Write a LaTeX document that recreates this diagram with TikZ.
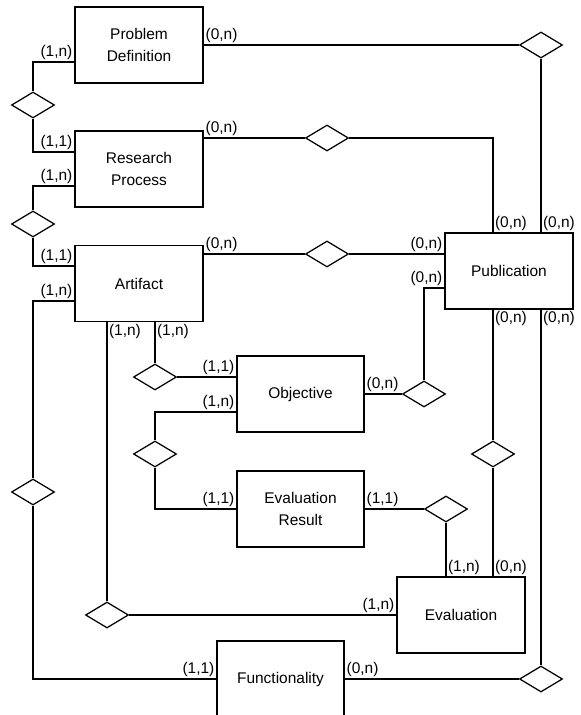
\documentclass[tikz,border=0pt]{standalone}
\usepackage{fontspec}
\setmainfont{Liberation Sans}
\usetikzlibrary{shapes.geometric,calc}
\tikzset{
  entity/.style={draw, rectangle, minimum width=3.2cm, minimum height=1.9cm,
    align=center, font=\fontsize{11}{15.5}\selectfont},
  rel/.style={draw, diamond, inner sep=0pt, minimum width=1.075cm, minimum height=0.65cm},
  card/.style={inner sep=1pt, font=\fontsize{11}{13}\selectfont},
}
\begin{document}
\begin{tikzpicture}[x=0.025cm, y=-0.025cm, line width=0.9pt]
    \useasboundingbox (0,0) rectangle (580,715);

    % 1. Entities
    \node[entity] (pd) at (139,45) {Problem\\Definition};
    \node[entity] (rp) at (139,169) {Research\\Process};
    \node[entity] (art) at (139,283.5) {Artifact};
    \node[entity] (pub) at (509,271) {Publication};
    \node[entity, minimum width=3.175cm] (obj) at (300.5,394) {Objective};
    \node[entity, minimum width=3.175cm] (er) at (300.5,509) {Evaluation\\Result};
    \node[entity] (eval) at (461,615) {Evaluation};
    \node[entity, minimum width=3.175cm] (func) at (280.5,679) {Functionality};

    % 2. Relationships
    \node[rel] (r1) at (541,45) {};
    \node[rel] (r2) at (33,105) {};
    \node[rel] (r3) at (327,138) {};
    \node[rel] (r4) at (33,224) {};
    \node[rel] (r5) at (327,254) {};
    \node[rel] (r6) at (33,492) {};
    \node[rel] (r7) at (107,615) {};
    \node[rel] (r8) at (155,377) {};
    \node[rel] (r9) at (424,394) {};
    \node[rel] (r10) at (155,454) {};
    \node[rel] (r11) at (446,509) {};
    \node[rel] (r12) at (493,454) {};
    \node[rel] (r13) at (541,679) {};

    % 3. Links with cardinalities
    \draw (pd.east) node[card, above right] {(0,n)} -- (r1);
    \draw (r1) -- (r1 |- pub.north) node[card, above right] {(0,n)};
    \draw ($(pd.west)+(0,17)$) node[card, above left] {(1,n)} -| (r2);
    \draw (r2) |- ($(rp.west)+(0,-17)$) node[card, above left] {(1,1)};
    \draw ($(rp.east)+(0,-31)$) node[card, above right] {(0,n)} -- (r3);
    \draw (r3) -| ($(pub.north)+(-16,0)$) node[card, above right] {(0,n)};
    \draw ($(rp.west)+(0,17)$) node[card, above left] {(1,n)} -| (r4);
    \draw (r4) |- ($(art.west)+(0,-17.5)$) node[card, above left] {(1,1)};
    \draw ($(art.east)+(0,-29.5)$) node[card, above right] {(0,n)} -- (r5)
        -- ($(pub.west)+(0,-17)$) node[card, above left] {(0,n)};
    \draw ($(art.west)+(0,17.5)$) node[card, above left] {(1,n)} -| (r6);
    \draw (r6) |- (func.west) node[card, above left] {(1,1)};
    \draw ($(art.south)+(-32,0)$) node[card, below right] {(1,n)} -- (r7);
    \draw (r7) -- (eval.west) node[card, above left] {(1,n)};
    \draw ($(art.south)+(16,0)$) node[card, below right] {(1,n)} -- (r8);
    \draw (r8) -- ($(obj.west)+(0,-17)$) node[card, above left] {(1,1)};
    \draw (obj.east) node[card, above right] {(0,n)} -- (r9);
    \draw (r9) |- ($(pub.west)+(0,17)$) node[card, above left] {(0,n)};
    \draw ($(obj.west)+(0,18)$) node[card, above left] {(1,n)} -| (r10);
    \draw (r10) |- (er.west) node[card, above left] {(1,1)};
    \draw (er.east) node[card, above right] {(1,1)} -- (r11);
    \draw (r11) -- ($(eval.north)+(-15,0)$) node[card, above right] {(1,n)};
    \draw ($(pub.south)+(-16,0)$) node[card, below right] {(0,n)} -- (r12);
    \draw (r12) -- ($(eval.north)+(32,0)$) node[card, above right] {(0,n)};
    \draw ($(pub.south)+(32,0)$) node[card, below right] {(0,n)} -- (r13);
    \draw (func.east) node[card, above right] {(0,n)} -- (r13);
\end{tikzpicture}
\end{document}
